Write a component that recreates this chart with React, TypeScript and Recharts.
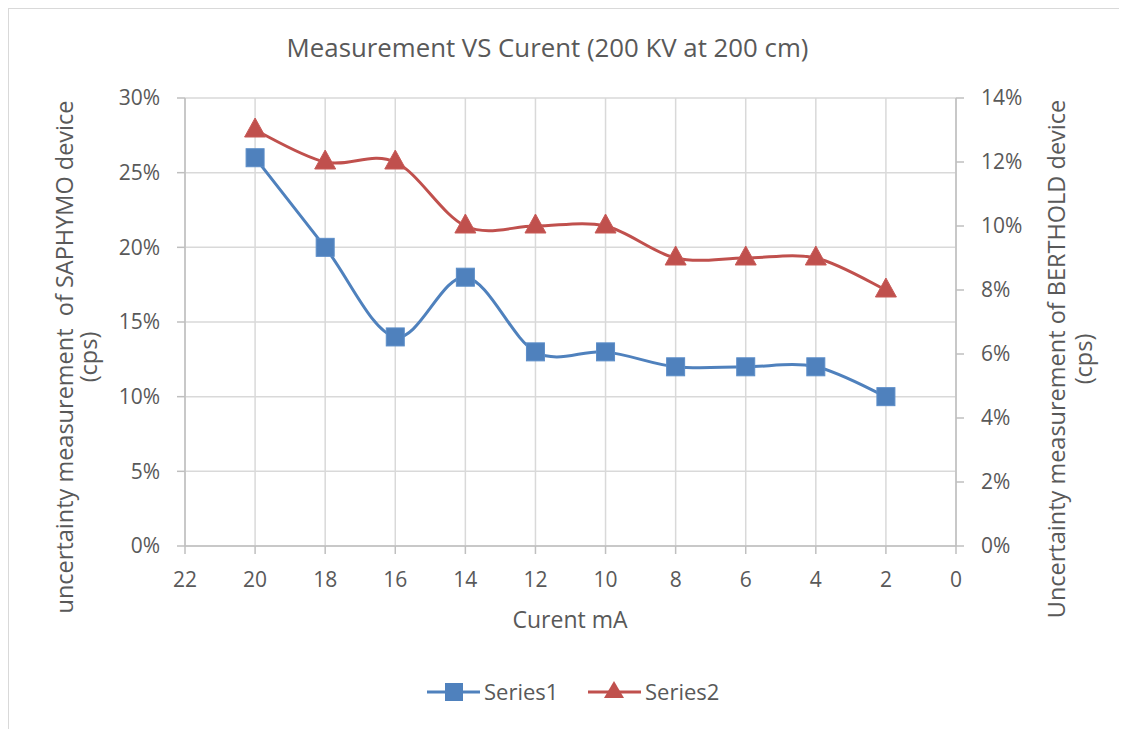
import React from 'react'
import {
  LineChart,
  Line,
  XAxis,
  YAxis,
  CartesianGrid,
  Legend,
  Customized,
} from 'recharts'

const currents = [20, 18, 16, 14, 12, 10, 8, 6, 4, 2]
const saphymo = [0.26, 0.2, 0.14, 0.18, 0.13, 0.13, 0.12, 0.12, 0.12, 0.1]
const berthold = [0.13, 0.12, 0.12, 0.1, 0.1, 0.1, 0.09, 0.09, 0.09, 0.08]

const xTicks = [22, 20, 18, 16, 14, 12, 10, 8, 6, 4, 2, 0]
const leftTicks = [0, 0.05, 0.1, 0.15, 0.2, 0.25, 0.3]
const rightTicks = [0, 0.02, 0.04, 0.06, 0.08, 0.1, 0.12, 0.14]

const data = currents.map((c, i) => ({ current: c, s1: saphymo[i], s2: berthold[i] }))

const BLUE = '#4f81bd'
const RED = '#c0504d'
const TEXT = '#595959'
const FONT = '"Open Sans", sans-serif'

// Excel-like smoothed line (catmull-rom style bezier)
function smoothCurve(context: any) {
  let pts: number[][] = []
  return {
    areaStart() {},
    areaEnd() {},
    lineStart() {
      pts = []
    },
    point(x: number, y: number) {
      pts.push([+x, +y])
    },
    lineEnd() {
      if (!pts.length) return
      context.moveTo(pts[0][0], pts[0][1])
      for (let i = 0; i < pts.length - 1; i++) {
        const p0 = pts[i - 1] || pts[i]
        const p1 = pts[i]
        const p2 = pts[i + 1]
        const p3 = pts[i + 2] || p2
        context.bezierCurveTo(
          p1[0] + (p2[0] - p0[0]) / 6,
          p1[1] + (p2[1] - p0[1]) / 6,
          p2[0] - (p3[0] - p1[0]) / 6,
          p2[1] - (p3[1] - p1[1]) / 6,
          p2[0],
          p2[1]
        )
      }
    },
  }
}

const pct = (v: number) => `${Math.round(v * 100)}%`

function SquareDot(props: any) {
  const { cx, cy, index } = props
  if (cx == null || cy == null) return null
  return <rect key={`sq-${index}`} x={cx - 9} y={cy - 9} width={18} height={18} fill={BLUE} stroke="#5b8dc8" strokeWidth={1} />
}

function TriangleDot(props: any) {
  const { cx, cy, index } = props
  if (cx == null || cy == null) return null
  return (
    <path
      key={`tr-${index}`}
      d={`M${cx},${cy - 12} L${cx + 10.5},${cy + 7} L${cx - 10.5},${cy + 7} Z`}
      fill={RED}
      stroke="#c85a57"
      strokeWidth={1}
    />
  )
}

function LegendContent() {
  return (
    <div style={{ display: 'flex', justifyContent: 'center', fontFamily: FONT, fontSize: 22, color: TEXT }}>
      <svg width={310} height={30}>
        <line x1={0} y1={15} x2={53} y2={15} stroke={BLUE} strokeWidth={3} />
        <rect x={18} y={6} width={18} height={18} fill={BLUE} />
        <text x={57} y={23} fill={TEXT} fontSize={22} fontFamily={FONT}>Series1</text>
        <line x1={161} y1={15} x2={214} y2={15} stroke={RED} strokeWidth={3} />
        <path d="M187,4 L197,21 L177,21 Z" fill={RED} />
        <text x={218} y={23} fill={TEXT} fontSize={22} fontFamily={FONT}>Series2</text>
      </svg>
    </div>
  )
}

function Titles() {
  return (
    <g fontFamily={FONT} fill={TEXT}>
      <text x={538.5} y={48} textAnchor="middle" fontSize={25.8}>
        Measurement VS Curent (200 KV at 200 cm)
      </text>
      <text x={561} y={619} textAnchor="middle" fontSize={23}>
        Curent mA
      </text>
      <g transform="translate(55,348) rotate(-90)">
        <text x={0} y={0} textAnchor="middle" dominantBaseline="central" fontSize={23.5} style={{ whiteSpace: 'pre' }}>
          {'uncertainty measurement  of SAPHYMO device'}
        </text>
        <text x={0} y={24} textAnchor="middle" dominantBaseline="central" fontSize={23.5}>
          (cps)
        </text>
      </g>
      <g transform="translate(1047,350) rotate(-90)">
        <text x={0} y={0} textAnchor="middle" dominantBaseline="central" fontSize={23.5}>
          Uncertainty measurement of BERTHOLD device
        </text>
        <text x={0} y={27} textAnchor="middle" dominantBaseline="central" fontSize={23.5}>
          (cps)
        </text>
      </g>
    </g>
  )
}

export default function App() {
  const tick = { fontSize: 21, fill: TEXT, fontFamily: FONT }
  return (
    <div
      style={{
        width: 1119,
        height: 721,
        borderTop: '1px solid #d9d9d9',
        borderLeft: '1px solid #d9d9d9',
        position: 'relative',
        background: '#fff',
      }}
    >
      <LineChart width={1118} height={720} data={data} margin={{ top: 89, right: 111, bottom: 123, left: 116 }}>
        <CartesianGrid stroke="#d9d9d9" strokeWidth={1.5} yAxisId="left" />
        <XAxis
          dataKey="current"
          type="number"
          domain={[0, 22]}
          ticks={xTicks}
          reversed
          interval={0}
          height={60}
          tick={tick}
          tickSize={8}
          tickMargin={18}
          stroke="#bfbfbf"
          strokeWidth={1.5}
        />
        <YAxis
          yAxisId="left"
          domain={[0, 0.3]}
          ticks={leftTicks}
          tickFormatter={pct}
          width={60}
          tick={tick}
          tickSize={8}
          tickMargin={17}
          stroke="#bfbfbf"
          strokeWidth={1.5}
        />
        <YAxis
          yAxisId="right"
          orientation="right"
          domain={[0, 0.14]}
          ticks={rightTicks}
          tickFormatter={pct}
          width={60}
          tick={tick}
          tickSize={8}
          tickMargin={17}
          stroke="#bfbfbf"
          strokeWidth={1.5}
        />
        <Line
          yAxisId="left"
          dataKey="s1"
          name="Series1"
          type={smoothCurve as any}
          stroke={BLUE}
          strokeWidth={3}
          dot={SquareDot}
          activeDot={false}
          isAnimationActive={false}
        />
        <Line
          yAxisId="right"
          dataKey="s2"
          name="Series2"
          type={smoothCurve as any}
          stroke={RED}
          strokeWidth={3}
          dot={TriangleDot}
          activeDot={false}
          isAnimationActive={false}
        />
        <Legend
          layout="vertical"
          align="center"
          verticalAlign="middle"
          content={<LegendContent />}
          wrapperStyle={{ position: 'absolute', top: 668, left: 123, width: 900 }}
        />
        <Customized component={<Titles />} />
      </LineChart>
    </div>
  )
}
